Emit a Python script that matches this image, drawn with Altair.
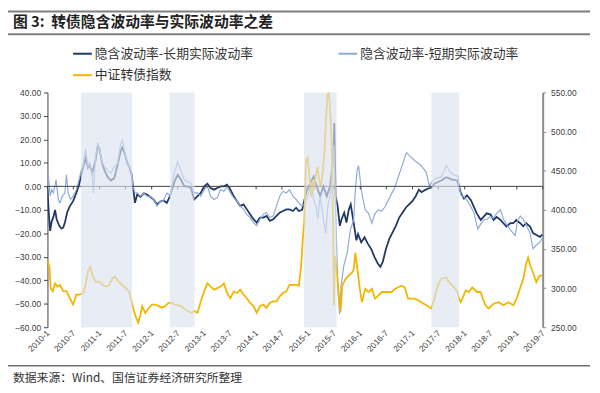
import altair as alt
import pandas as pd

TITLE = "图 3:\u00a0\u00a0转债隐含波动率与实际波动率之差"
SOURCE = "数据来源：Wind、国信证券经济研究所整理"
S_LONG = "隐含波动率-长期实际波动率"
S_SHORT = "隐含波动率-短期实际波动率"
S_INDEX = "中证转债指数"
SERIES = [S_LONG, S_SHORT, S_INDEX]
COLORS = ["#1f3864", "#8eaadb", "#f2b600"]

# x positions are decimal years
long_t = [2010.000, 2010.025, 2010.051, 2010.081, 2010.114, 2010.146, 2010.176, 2010.227, 2010.271, 2010.303,
          2010.335, 2010.379, 2010.430, 2010.492, 2010.554, 2010.606, 2010.649, 2010.681, 2010.732, 2010.776,
          2010.808, 2010.857, 2010.922, 2010.965, 2010.997, 2011.047, 2011.092, 2011.154, 2011.217, 2011.281,
          2011.344, 2011.406, 2011.438, 2011.489, 2011.533, 2011.576, 2011.614, 2011.641, 2011.679, 2011.722,
          2011.785, 2011.849, 2011.911, 2011.974, 2012.038, 2012.101, 2012.163, 2012.227, 2012.290, 2012.352,
          2012.436, 2012.498, 2012.561, 2012.625, 2012.687, 2012.750, 2012.814, 2012.877, 2012.939, 2013.003,
          2013.066, 2013.128, 2013.193, 2013.255, 2013.318, 2013.382, 2013.444, 2013.507, 2013.571, 2013.634,
          2013.696, 2013.760, 2013.823, 2013.885, 2013.950, 2014.012, 2014.075, 2014.139, 2014.201, 2014.264,
          2014.328, 2014.391, 2014.453, 2014.517, 2014.580, 2014.642, 2014.707, 2014.769, 2014.820, 2014.883,
          2014.945, 2014.977, 2015.040, 2015.104, 2015.166, 2015.229, 2015.293, 2015.356, 2015.418, 2015.464,
          2015.488, 2015.501, 2015.526, 2015.564, 2015.607, 2015.640, 2015.691, 2015.734, 2015.778, 2015.816,
          2015.861, 2015.891, 2015.924, 2015.956, 2016.018, 2016.081, 2016.145, 2016.207, 2016.270, 2016.334,
          2016.383, 2016.429, 2016.491, 2016.554, 2016.618, 2016.680, 2016.743, 2016.807, 2016.870, 2016.932,
          2016.996, 2017.059, 2017.122, 2017.173, 2017.229, 2017.286, 2017.362, 2017.419, 2017.551, 2017.646,
          2017.740, 2017.854, 2017.892, 2017.930, 2017.986, 2018.043, 2018.119, 2018.176, 2018.232, 2018.308,
          2018.365, 2018.422, 2018.497, 2018.554, 2018.611, 2018.687, 2018.743, 2018.800, 2018.876, 2018.933,
          2018.989, 2019.065, 2019.122, 2019.179, 2019.254, 2019.311, 2019.368, 2019.443, 2019.495]
long_v = [-1.4, -11, -19, -15, -13, -10, -14, -16.8, -18, -17.5,
          -15.4, -11, -8.4, -6.3, -2.8, 0.7, 4.9, 8, 12, 8,
          9.5, 5.6, 11, 17.5, 16, 10, 7, 4, 2.5, 3.5,
          9, 15, 16.5, 13.5, 10, 8, 5, 0, -7, -3.5,
          -4.5, -3, -3.5, -4.5, -5.6, -7.7, -6.5, -6, -7, -4,
          2, 4.9, 2.8, 0, 0, -0.7, -5.6, -4.2, -2.8, 0,
          1.1, -0.7, -1.4, -0.7, 0, 0, 0.7, -1.4, -4.2, -6.3,
          -8.4, -7.7, -9.8, -11.9, -14, -15.4, -13.3, -13.3, -12.6, -14.7,
          -14, -12.6, -11.2, -10.5, -9.8, -9.8, -10.5, -9.1, -10.5, -10,
          -4.2, -1.4, 1.4, 4.2, 0, -4.2, 0, -4.2, 0, 8.4,
          18, 27, -4.2, -8.4, -16.8, -14, -11.2, -15.4, -10, -7.7,
          -14, -18.2, -23, -20.3, -23.8, -21.7, -24.5, -26.6, -30, -32.9,
          -34.3, -32.2, -26.6, -22.4, -19.6, -16.8, -13.3, -11.2, -9.1, -7.7,
          -6.3, -4.2, -1.4, -2.5, -1.7, -1, -0.5, 1.1, 2.5, 3.9,
          3, 2.5, 0, -3.1, -5.2, -3.8, -5.9, -8.7, -11.5, -14.3,
          -12.9, -11.5, -12, -14.3, -13, -14.3, -15.7, -17.1, -15.7, -15.7,
          -14.3, -15.7, -17, -15.7, -17.1, -19.9, -20.6, -21.5, -20.5]

short_t = [2010.000, 2010.025, 2010.051, 2010.081, 2010.114, 2010.165, 2010.208, 2010.240, 2010.290, 2010.335,
           2010.365, 2010.397, 2010.441, 2010.492, 2010.554, 2010.606, 2010.649, 2010.681, 2010.732, 2010.776,
           2010.808, 2010.857, 2010.884, 2010.922, 2010.965, 2010.997, 2011.047, 2011.092, 2011.154, 2011.217,
           2011.281, 2011.344, 2011.406, 2011.438, 2011.489, 2011.533, 2011.576, 2011.614, 2011.641, 2011.679,
           2011.722, 2011.785, 2011.849, 2011.911, 2011.974, 2012.038, 2012.101, 2012.163, 2012.227, 2012.290,
           2012.352, 2012.436, 2012.498, 2012.561, 2012.625, 2012.687, 2012.750, 2012.814, 2012.877, 2012.939,
           2013.003, 2013.066, 2013.128, 2013.193, 2013.255, 2013.318, 2013.382, 2013.444, 2013.507, 2013.571,
           2013.634, 2013.696, 2013.760, 2013.823, 2013.885, 2013.950, 2014.012, 2014.075, 2014.139, 2014.201,
           2014.264, 2014.328, 2014.391, 2014.453, 2014.517, 2014.580, 2014.642, 2014.707, 2014.769, 2014.820,
           2014.883, 2014.945, 2015.009, 2015.059, 2015.104, 2015.148, 2015.185, 2015.229, 2015.274, 2015.337,
           2015.375, 2015.418, 2015.464, 2015.494, 2015.526, 2015.545, 2015.573, 2015.602, 2015.630, 2015.683,
           2015.747, 2015.810, 2015.872, 2015.905, 2015.937, 2015.967, 2015.999, 2016.031, 2016.094, 2016.156,
           2016.221, 2016.283, 2016.346, 2016.410, 2016.472, 2016.535, 2016.599, 2016.662, 2016.724, 2016.788,
           2016.851, 2016.883, 2016.945, 2017.040, 2017.103, 2017.167, 2017.262, 2017.324, 2017.362, 2017.457,
           2017.551, 2017.646, 2017.722, 2017.778, 2017.873, 2017.892, 2017.930, 2017.986, 2018.043, 2018.119,
           2018.176, 2018.251, 2018.308, 2018.365, 2018.422, 2018.497, 2018.554, 2018.611, 2018.687, 2018.743,
           2018.800, 2018.876, 2018.970, 2019.008, 2019.065, 2019.122, 2019.179, 2019.254, 2019.311, 2019.368,
           2019.443, 2019.495]
short_v = [6.3, 2.8, -4, -1.4, -2.8, 2.8, -5.6, -7, -4, -2.8,
           4.9, -2.8, -5.6, -4.2, -1.4, 2.8, 7, 9, 16, 8.4,
           9.8, 5.6, -2.8, 12.6, 18.2, 16, 10.5, 8.4, 7, 5.6,
           8.4, 9.8, 18.2, 19.6, 14, 10.5, 8.4, 6.3, 0, -2.8,
           -2.8, -4.2, -3, -4.2, -4.2, -5.6, -8.4, -6.5, -6, -2.8,
           -4.2, 6, 10.5, 6.3, 2.8, 2, 1.4, -2.8, -2.8, -4.2,
           -1.4, 0, -4.2, -5.6, -4.9, -1.4, -2.1, 0, -2.8, -4.9,
           -6.3, -8.4, -9.8, -11.9, -13.3, -15.4, -16.8, -14, -11.9, -11.2,
           -13.3, -12.6, -8.4, -4.2, -2.1, -2.8, -1.4, -4.2, -5.6, -7,
           -8.4, -7, -2.8, 1.4, -5.6, -8.4, -14, -4.2, -11.2, -20,
           -8.4, -4.2, 7, 17.5, -10, -25, -45, -54.5, -42.3, -33.9,
           -28.3, -18.5, -14.3, -1.7, 6.7, 8.8, 2.5, -3.1, -10, -11.5,
           -15.7, -11.5, -10, -10.5, -8.7, -5.9, -3.1, -0.3, 3.9, 8.1,
           12.3, 14.4, 13, 10.9, 10, 8.8, 6, 0, 1.8, 3.5,
           3.9, 9, 6, 5, 4.2, 0, -3.8, -4.5, -5.9, -8.7,
           -11.2, -18.2, -16, -14.3, -14, -12.9, -13.5, -11.5, -10, -14,
           -16, -18.5, -21, -15, -12.6, -14, -16.5, -19.9, -26.6, -25.2,
           -23.8, -21.7]

index_t = [2010.000, 2010.038, 2010.062, 2010.100, 2010.146, 2010.189, 2010.240, 2010.303, 2010.365, 2010.430,
           2010.492, 2010.554, 2010.619, 2010.681, 2010.732, 2010.776, 2010.819, 2010.871, 2010.933, 2010.997,
           2011.060, 2011.122, 2011.187, 2011.249, 2011.300, 2011.363, 2011.438, 2011.501, 2011.565, 2011.614,
           2011.660, 2011.703, 2011.741, 2011.785, 2011.817, 2011.879, 2011.944, 2012.006, 2012.068, 2012.133,
           2012.195, 2012.258, 2012.322, 2012.385, 2012.436, 2012.561, 2012.687, 2012.750, 2012.814, 2012.877,
           2012.939, 2013.003, 2013.066, 2013.128, 2013.193, 2013.255, 2013.318, 2013.382, 2013.444, 2013.507,
           2013.571, 2013.634, 2013.696, 2013.760, 2013.823, 2013.885, 2013.950, 2014.012, 2014.075, 2014.139,
           2014.201, 2014.264, 2014.328, 2014.391, 2014.453, 2014.517, 2014.580, 2014.642, 2014.707, 2014.769,
           2014.820, 2014.864, 2014.896, 2014.926, 2014.958, 2014.990, 2015.021, 2015.053, 2015.085, 2015.115,
           2015.148, 2015.180, 2015.210, 2015.242, 2015.274, 2015.305, 2015.337, 2015.369, 2015.399, 2015.431,
           2015.450, 2015.475, 2015.494, 2015.513, 2015.539, 2015.588, 2015.621, 2015.653, 2015.715, 2015.778,
           2015.842, 2015.872, 2015.905, 2015.937, 2015.999, 2016.031, 2016.094, 2016.156, 2016.221, 2016.283,
           2016.346, 2016.410, 2016.472, 2016.535, 2016.599, 2016.662, 2016.724, 2016.788, 2016.851, 2016.913,
           2016.978, 2017.040, 2017.103, 2017.167, 2017.262, 2017.356, 2017.419, 2017.481, 2017.545, 2017.640,
           2017.702, 2017.797, 2017.860, 2017.892, 2017.924, 2017.955, 2018.019, 2018.081, 2018.144, 2018.238,
           2018.302, 2018.397, 2018.459, 2018.554, 2018.649, 2018.743, 2018.838, 2018.933, 2018.995, 2019.059,
           2019.122, 2019.185, 2019.217, 2019.260, 2019.311, 2019.374, 2019.437, 2019.487]
index_v = [335.7, 327, 300, 296, 306, 302, 304, 296, 296, 287,
           279, 291.6, 291.6, 293.7, 304, 321, 327, 314.7, 308, 308,
           304, 302, 304, 312.6, 314.7, 308, 304, 300, 296, 283,
           270.6, 262, 256, 266, 277, 268, 274.8, 279, 279, 277,
           275, 277, 281, 281, 279, 277, 270.6, 268.5, 270.6, 268.5,
           283, 295.8, 306, 302, 298, 300, 302, 306, 293.7, 287,
           295.8, 293.7, 298, 291.6, 287, 281, 277, 268.5, 277, 279,
           274.8, 281, 283, 283, 289.5, 293.7, 295.8, 304, 304, 304,
           303, 328.5, 362, 387, 463, 467, 446, 416.7, 437.7, 425,
           446, 454.5, 437.7, 429, 446, 467, 509, 547, 550, 513,
           480, 396, 278, 341, 328.5, 290.7, 269.7, 303, 311.7, 316,
           320, 324, 345, 328.5, 295, 282, 299, 295, 299, 286.5,
           290.7, 295, 295, 295, 295, 299, 301, 303, 301, 286.5,
           286.5, 286.5, 284.4, 282, 278, 274, 286.5, 303, 311.7, 313.8,
           307.5, 301, 295, 286.5, 282, 286.5, 297, 295, 301, 295,
           295, 278, 274, 280, 282, 278, 282, 278, 286.5, 299,
           311.7, 332.7, 339, 328.5, 320, 307.5, 316, 316]

band_start = [2010.643, 2012.347, 2014.921, 2017.362]
band_end = [2011.628, 2012.820, 2015.545, 2017.892]

tick_labels = ["2010-1", "2010-7", "2011-1", "2011-7", "2012-1", "2012-7", "2013-1", "2013-7",
               "2014-1", "2014-7", "2015-1", "2015-7", "2016-1", "2016-7", "2017-1", "2017-7",
               "2018-1", "2018-7", "2019-1", "2019-7"]
left_ticks = [-60, -50, -40, -30, -20, -10, 0, 10, 20, 30, 40]
right_ticks = [250, 300, 350, 400, 450, 500, 550]


def to_ts(t):
    y = int(t)
    start = pd.Timestamp(year=y, month=1, day=1)
    end = pd.Timestamp(year=y + 1, month=1, day=1)
    return start + (end - start) * (t - y)


def label_dt(lbl):
    y, m = lbl.split("-")
    return alt.DateTime(year=int(y), month=int(m), date=1)


df_long = pd.DataFrame({"date": [to_ts(t) for t in long_t], "value": long_v, "series": S_LONG})
df_short = pd.DataFrame({"date": [to_ts(t) for t in short_t], "value": short_v, "series": S_SHORT})
df_index = pd.DataFrame({"date": [to_ts(t) for t in index_t], "value": index_v, "series": S_INDEX})
df_bands = pd.DataFrame({"start": [to_ts(t) for t in band_start], "end": [to_ts(t) for t in band_end]})
df_ticks = pd.DataFrame({"tick": [pd.Timestamp(int(l.split("-")[0]), int(l.split("-")[1]), 1) for l in tick_labels]})

LBL_FONT = "Liberation Sans"
CJK = "Noto Sans CJK SC"

x_scale = alt.Scale(domain=[label_dt(tick_labels[0]), label_dt(tick_labels[-1])], nice=False)
x_axis = alt.Axis(values=[label_dt(l) for l in tick_labels], format="%Y-%-m", formatType="time",
                  labelAngle=-45, labelAlign="right", labelBaseline="middle", labelPadding=4,
                  domain=False, ticks=False, grid=False, labelFontSize=8.5, labelFont=LBL_FONT,
                  labelColor="#404040", title=None, labelOverlap=False, labelFlush=False, labelBound=False)


def X(field="date"):
    return alt.X(f"{field}:T", scale=x_scale, axis=x_axis)


left_scale = alt.Scale(domain=[-60, 40], nice=False, zero=False)
right_scale = alt.Scale(domain=[250, 550], nice=False, zero=False)
left_axis = alt.Axis(orient="left", values=left_ticks, format=".2f", grid=False, domainColor="#404040",
                     tickColor="#404040", tickSize=4, labelPadding=3, labelFontSize=8.5, labelFont=LBL_FONT,
                     labelColor="#404040", title=None)
right_axis = alt.Axis(orient="right", values=right_ticks, format=".2f", grid=False, domainColor="#8c8c8c",
                      domainWidth=2, tickColor="#8c8c8c", tickSize=3, labelPadding=5, labelFontSize=8.5,
                      labelFont=LBL_FONT, labelColor="#404040", title=None)

legend = alt.Legend(orient="none", legendX=25, legendY=-50, columns=2, direction="horizontal",
                    symbolType="stroke", symbolSize=361,
                    symbolStrokeWidth=2, labelFont=CJK, labelFontSize=13, labelColor="#333333",
                    labelLimit=400, columnPadding=82, rowPadding=4, labelOffset=2, title=None)
color = alt.Color("series:N", scale=alt.Scale(domain=SERIES, range=COLORS), legend=legend)

navy = alt.Chart(df_long).mark_line(strokeWidth=1.8, clip=True).encode(
    x=X(), y=alt.Y("value:Q", scale=left_scale, axis=left_axis), color=color)
light = alt.Chart(df_short).mark_line(strokeWidth=1.2, clip=True).encode(
    x=X(), y=alt.Y("value:Q", scale=left_scale, axis=None), color=color)
gold = alt.Chart(df_index).mark_line(strokeWidth=1.8, clip=True).encode(
    x=X(), y=alt.Y("value:Q", scale=right_scale, axis=right_axis), color=color)
bands = alt.Chart(df_bands).mark_rect(color="#dce4f0", opacity=0.65).encode(
    x=X("start"), x2="end:T")
zero = alt.Chart(pd.DataFrame({"z": [0]})).mark_rule(color="#404040", strokeWidth=1).encode(
    y=alt.Y("z:Q", scale=left_scale, axis=None))
zero_ticks = alt.Chart(df_ticks).mark_rule(color="#404040", strokeWidth=1).encode(
    x=X("tick"), y=alt.YDatum(0, scale=left_scale, axis=None), y2=alt.Y2Datum(-1.3))

one = pd.DataFrame({"t": [TITLE]})
title_txt = alt.Chart(one).mark_text(align="left", baseline="middle", font=CJK, fontSize=15,
                                     fontWeight="bold", color="#222222").encode(
    text="t:N", x=alt.value(-35), y=alt.value(-71))
hdr_top = alt.Chart(one).mark_rule(color="#7f7f7f", strokeWidth=2).encode(
    x=alt.value(-40), x2=alt.value(550), y=alt.value(-82))
hdr_bot = alt.Chart(one).mark_rule(color="#7f7f7f", strokeWidth=2).encode(
    x=alt.value(-40), x2=alt.value(550), y=alt.value(-59))
src = pd.DataFrame({"t": [SOURCE]})
ftr_line = alt.Chart(src).mark_rule(color="#6f6f6f", strokeWidth=1.5).encode(
    x=alt.value(-40), x2=alt.value(550), y=alt.value(277))
ftr_txt = alt.Chart(src).mark_text(align="left", baseline="middle", font=CJK, fontSize=12,
                                   color="#333333").encode(
    text="t:N", x=alt.value(-35), y=alt.value(290))

chart = alt.layer(
    navy, light, gold, zero, zero_ticks, bands, title_txt, hdr_top, hdr_bot, ftr_line, ftr_txt
).resolve_scale(y="independent").properties(
    width=502, height=238,
    padding={"left": 40, "top": 83, "right": 50, "bottom": 59},
    autosize=alt.AutoSizeParams(type="none"),
    background="white",
).configure_view(strokeWidth=0)

chart.save("out.html", embed_options={"renderer": "svg", "actions": False})
